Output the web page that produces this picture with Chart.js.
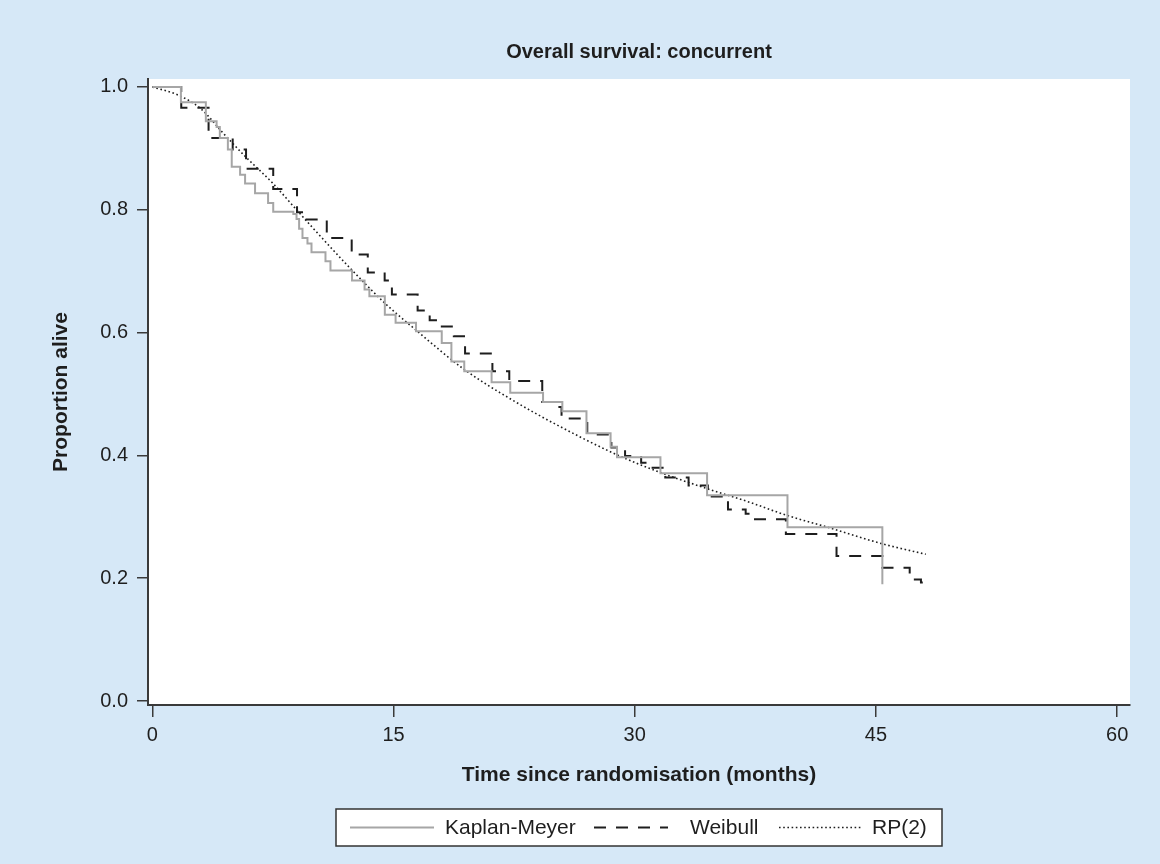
<!DOCTYPE html>
<html>
<head>
<meta charset="utf-8">
<script src="https://cdn.jsdelivr.net/npm/chart.js@4.4.1/dist/chart.umd.min.js"></script>
<style>
  html, body { margin: 0; padding: 0; background: #d6e8f7; }
  #wrap { width: 1160px; height: 864px; position: relative; }
  canvas { display: block; }
</style>
</head>
<body>
<div id="wrap"><canvas id="c" width="1160" height="864"></canvas></div>
<script>
// ---- data ----
const kmTime = [0, 1.78, 3.33, 4.0, 4.2, 4.7, 4.94, 5.46, 5.77, 6.39, 7.2, 7.52, 8.77, 8.97, 9.13, 9.34, 9.65, 9.9, 10.77, 11.08, 12.42, 13.2, 13.5, 14.46, 15.13, 16.4, 18.0, 18.6, 19.4, 21.1, 22.26, 24.3, 25.5, 27.0, 28.5, 28.9, 31.6, 34.5, 39.5, 45.4];
const kmSurv = [1.0, 0.975, 0.944, 0.935, 0.917, 0.898, 0.870, 0.857, 0.843, 0.827, 0.811, 0.797, 0.793, 0.785, 0.769, 0.754, 0.745, 0.731, 0.716, 0.701, 0.685, 0.670, 0.659, 0.629, 0.616, 0.602, 0.583, 0.553, 0.537, 0.519, 0.502, 0.487, 0.472, 0.436, 0.414, 0.397, 0.371, 0.335, 0.283, 0.190];

const wbTime = [0, 1.8, 3.5, 5.0, 5.83, 7.52, 9.0, 9.6, 10.85, 12.4, 13.4, 14.45, 14.9, 16.5, 17.25, 17.9, 18.75, 19.45, 21.15, 22.2, 24.25, 24.9, 25.45, 27.05, 28.55, 29.4, 30.4, 30.85, 31.9, 33.35, 34.55, 35.8, 36.9, 37.3, 39.4, 42.55, 45.4, 47.1, 47.8, 48.4];
const wbSurv = [1.0, 0.966, 0.917, 0.898, 0.867, 0.834, 0.796, 0.784, 0.754, 0.727, 0.698, 0.685, 0.662, 0.636, 0.620, 0.610, 0.594, 0.566, 0.537, 0.521, 0.487, 0.479, 0.460, 0.434, 0.413, 0.399, 0.388, 0.380, 0.364, 0.351, 0.333, 0.312, 0.305, 0.296, 0.272, 0.236, 0.217, 0.198, 0.193, 0.193];

const rpTime = [0, 1.5, 3.0, 4.4, 5.7, 7.5, 8.8, 10, 12.3, 14.5, 16.4, 19.4, 22.4, 25.5, 28.9, 31.5, 34.6, 37, 39.5, 42, 45.4, 48.1];
const rpSurv = [1.0, 0.988, 0.965, 0.925, 0.889, 0.843, 0.805, 0.770, 0.705, 0.647, 0.604, 0.540, 0.490, 0.445, 0.401, 0.373, 0.345, 0.325, 0.302, 0.283, 0.256, 0.239];

const xTicks = [0, 15, 30, 45, 60];
const yTicks = [0.0, 0.2, 0.4, 0.6, 0.8, 1.0];

const seriesNames = ['Kaplan-Meyer', 'Weibull', 'RP(2)'];
const titleText = 'Overall survival: concurrent';
const xTitle = 'Time since randomisation (months)';
const yTitle = 'Proportion alive';

// ---- styling ----
const FONT = "'Liberation Sans', Arial, Helvetica, sans-serif";
const BG = '#d6e8f7';
const AXIS = '#3a3a3a';
const KM_COLOR = '#a6a6a6';
const INK = '#1e1e1e';

const pts = (xs, ys) => xs.map((x, i) => ({ x: x, y: ys[i] }));

const bgPlugin = {
  id: 'bg',
  beforeDraw(chart) {
    const { ctx, chartArea: a } = chart;
    ctx.save();
    ctx.fillStyle = BG;
    ctx.fillRect(0, 0, chart.width, chart.height);
    ctx.fillStyle = '#ffffff';
    ctx.fillRect(a.left, a.top, a.right - a.left, a.bottom - a.top);
    ctx.restore();
  }
};

const legendPlugin = {
  id: 'boxLegend',
  afterDraw(chart) {
    const ctx = chart.ctx;
    const bx = 336, by = 809, bw = 606, bh = 37;
    const cy = by + bh / 2;
    ctx.save();
    ctx.fillStyle = '#ffffff';
    ctx.fillRect(bx, by, bw, bh);
    ctx.strokeStyle = '#333333';
    ctx.lineWidth = 1.5;
    ctx.strokeRect(bx, by, bw, bh);
    const ds = chart.data.datasets;
    const items = [
      { x0: 350, x1: 434, tx: 445 },
      { x0: 594, x1: 668, tx: 690 },
      { x0: 779, x1: 861, tx: 872 }
    ];
    items.forEach((it, i) => {
      const d = ds[i];
      ctx.beginPath();
      ctx.setLineDash(d.borderDash || []);
      ctx.strokeStyle = d.borderColor;
      ctx.lineWidth = d.borderWidth;
      ctx.moveTo(it.x0, cy);
      ctx.lineTo(it.x1, cy);
      ctx.stroke();
      ctx.setLineDash([]);
      ctx.fillStyle = INK;
      ctx.font = '21px ' + FONT;
      ctx.textBaseline = 'middle';
      ctx.textAlign = 'left';
      ctx.fillText(d.label, it.tx, cy + 1);
    });
    ctx.restore();
  }
};

new Chart(document.getElementById('c'), {
  type: 'line',
  data: {
    datasets: [
      {
        label: seriesNames[0],
        data: pts(kmTime, kmSurv),
        stepped: true,
        borderColor: KM_COLOR,
        borderWidth: 2,
        pointRadius: 0,
        fill: false
      },
      {
        label: seriesNames[1],
        data: pts(wbTime, wbSurv),
        stepped: true,
        borderColor: INK,
        borderWidth: 2,
        borderDash: [12, 10],
        pointRadius: 0,
        fill: false
      },
      {
        label: seriesNames[2],
        data: pts(rpTime, rpSurv),
        cubicInterpolationMode: 'monotone',
        borderColor: INK,
        borderWidth: 1.6,
        borderDash: [1.6, 2.6],
        pointRadius: 0,
        fill: false
      }
    ]
  },
  options: {
    responsive: false,
    devicePixelRatio: 1,
    animation: false,
    events: [],
    layout: { padding: { left: 0, right: 30, top: 0, bottom: 0 } },
    plugins: {
      legend: { display: false },
      tooltip: { enabled: false },
      title: {
        display: true,
        fullSize: false,
        text: titleText,
        color: INK,
        font: { family: FONT, size: 20, weight: 'bold' },
        padding: { top: 40, bottom: 15 }
      }
    },
    scales: {
      x: {
        type: 'linear',
        min: -0.267,
        max: 60.8,
        afterFit(scale) { scale.height = 159; },
        afterBuildTicks(scale) { scale.ticks = xTicks.map(v => ({ value: v })); },
        ticks: {
          color: INK,
          font: { family: FONT, size: 20 },
          padding: 6,
          maxRotation: 0,
          callback: v => String(v)
        },
        grid: {
          display: true,
          drawOnChartArea: false,
          drawTicks: true,
          tickLength: 12,
          color: AXIS,
          lineWidth: 1.5
        },
        border: { display: true, color: AXIS, width: 2 },
        title: {
          display: true,
          text: xTitle,
          color: INK,
          font: { family: FONT, size: 21, weight: 'bold' },
          padding: { top: 0, bottom: 76 }
        }
      },
      y: {
        type: 'linear',
        min: -0.0065,
        max: 1.013,
        afterFit(scale) { scale.width = 148; },
        afterBuildTicks(scale) { scale.ticks = yTicks.map(v => ({ value: v })); },
        ticks: {
          color: INK,
          font: { family: FONT, size: 20 },
          padding: 9,
          callback: v => Number(v).toFixed(1)
        },
        grid: {
          display: true,
          drawOnChartArea: false,
          drawTicks: true,
          tickLength: 11,
          color: AXIS,
          lineWidth: 1.5
        },
        border: { display: true, color: AXIS, width: 2 },
        title: {
          display: true,
          text: yTitle,
          color: INK,
          font: { family: FONT, size: 21, weight: 'bold' },
          padding: { top: 49, bottom: 0 }
        }
      }
    }
  },
  plugins: [bgPlugin, legendPlugin]
});
</script>
</body>
</html>
